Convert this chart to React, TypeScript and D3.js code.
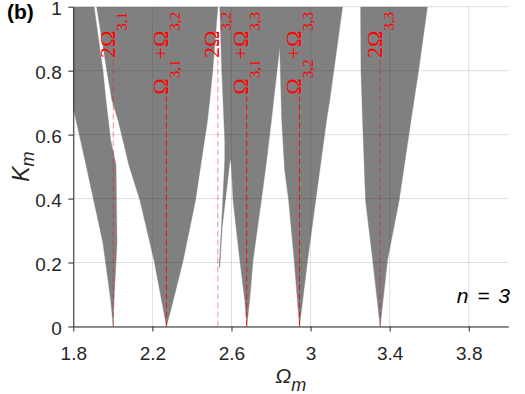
import React, { useRef, useEffect } from "react";
import * as d3 from "d3";

// axis ticks
const omegaTicks = [1.8, 2.2, 2.6, 3, 3.4, 3.8];
const kTicks = [0, 0.2, 0.4, 0.6, 0.8, 1];

// resonance positions (combinations of the n = 3 natural frequencies)
const resonanceOmega = [2.002, 2.271, 2.531, 2.677, 2.944, 3.352];
const resonanceLabels = [
	"2Ω_{3,1}",
	"Ω_{3,1}+Ω_{3,2}",
	"2Ω_{3,2}",
	"Ω_{3,1}+Ω_{3,3}",
	"Ω_{3,2}+Ω_{3,3}",
	"2Ω_{3,3}",
];

// instability regions, [Ω_m, K_m] boundary points
const tongueA = [
	[1.8, 1.0], [1.905, 1.0], [1.95, 0.8], [1.965, 0.708], [1.989, 0.583],
	[2.016, 0.505], [2.021, 0.26], [2.006, 0.083], [2.002, 0],
	[1.989, 0.083], [1.95, 0.261], [1.859, 0.521], [1.8, 0.683],
];
const tongueB = [
	[1.918, 1.0], [1.97, 0.799], [1.995, 0.708], [2.026, 0.646], [2.051, 0.583],
	[2.081, 0.505], [2.137, 0.395], [2.208, 0.208], [2.253, 0.061], [2.271, 0],
	[2.297, 0.061], [2.356, 0.208], [2.418, 0.395], [2.479, 0.646],
	[2.49, 0.708], [2.505, 0.799], [2.531, 1.0],
];
const tongueCDE = [
	[2.541, 1.0], [2.551, 0.799], [2.566, 0.583], [2.566, 0.521], [2.551, 0.333],
	[2.538, 0.186], [2.541, 0.186], [2.553, 0.311], [2.594, 0.527],
	[2.599, 0.505], [2.608, 0.395], [2.642, 0.208], [2.667, 0.083], [2.677, 0],
	[2.692, 0.083], [2.709, 0.208], [2.751, 0.395], [2.778, 0.521], [2.802, 0.646],
	[2.844, 0.874],
	[2.854, 0.646], [2.869, 0.489], [2.889, 0.395], [2.917, 0.208], [2.944, 0],
	[2.985, 0.208], [3.026, 0.395], [3.081, 0.646], [3.097, 0.708], [3.162, 1.0],
];
const tongueF = [
	[3.253, 1.0], [3.255, 0.799], [3.263, 0.646], [3.278, 0.395], [3.314, 0.208],
	[3.352, 0], [3.389, 0.208], [3.448, 0.395], [3.508, 0.646], [3.546, 0.799],
	[3.591, 1.0],
];
const tongues = [tongueA, tongueB, tongueCDE, tongueF];

const width = 525;
const height = 394;
const margin = { left: 73.3, right: 16.7, top: 6.7, bottom: 67.5 };

const axisColor = "#262626";
const sans = "'Liberation Sans', Arial, sans-serif";
const serif = "'Liberation Serif', 'Times New Roman', serif";

const App = () => {
	const svgRef = useRef<SVGSVGElement>(null);

	useEffect(() => {
		const svg = d3.select(svgRef.current);
		svg.selectAll("*").remove();

		const x = d3.scaleLinear().domain([1.8, 4.0]).range([margin.left, width - margin.right]);
		const y = d3.scaleLinear().domain([0, 1]).range([height - margin.bottom, margin.top]);

		svg.append("defs").append("clipPath").attr("id", "plotClip")
			.append("rect")
			.attr("x", margin.left).attr("y", margin.top)
			.attr("width", width - margin.left - margin.right)
			.attr("height", height - margin.top - margin.bottom);

		const line = d3.line<number[]>().x(d => x(d[0])).y(d => y(d[1]));

		// gray tongues
		svg.append("g").attr("clip-path", "url(#plotClip)")
			.selectAll("path")
			.data(tongues)
			.enter()
			.append("path")
			.attr("d", d => line(d) + "Z")
			.attr("fill", "#808080")
			.attr("stroke", "#808080")
			.attr("stroke-width", 0.4);

		// grid
		const grid = svg.append("g").attr("stroke", axisColor).attr("stroke-opacity", 0.15);
		grid.selectAll("line.v").data(omegaTicks).enter().append("line")
			.attr("class", "v")
			.attr("x1", d => x(d)).attr("x2", d => x(d))
			.attr("y1", y(0)).attr("y2", y(1));
		grid.selectAll("line.h").data(kTicks).enter().append("line")
			.attr("class", "h")
			.attr("x1", x(1.8)).attr("x2", x(4.0))
			.attr("y1", d => y(d)).attr("y2", d => y(d));

		// resonance lines + labels
		const res = svg.append("g");
		resonanceOmega.forEach((w, i) => {
			const label = resonanceLabels[i];
			const harmonic = label.startsWith("2");
			const text = res.append("text")
				.attr("transform", `translate(${x(w) + 1.5},${12}) rotate(-90)`)
				.attr("text-anchor", "end")
				.attr("fill", "#ff0000")
				.attr("font-family", serif)
				.attr("font-size", 22);
			const parts = label.split(/(_\{[^}]*\})/).filter(s => s.length);
			let shift = 0;
			parts.forEach(p => {
				const sub = p.startsWith("_{");
				const s = sub ? 12 : 0;
				text.append("tspan")
					.attr("dy", s - shift)
					.attr("font-size", sub ? 15 : 22)
					.text(sub ? p.slice(2, -1) : p);
				shift = s;
			});
			const len = (text.node() as SVGTextElement).getBBox().width;
			res.append("line")
				.attr("x1", x(w)).attr("x2", x(w))
				.attr("y1", y(0)).attr("y2", 12 + len + 2)
				.attr("stroke", "#ff0000")
				.attr("stroke-opacity", harmonic ? 0.45 : 0.85)
				.attr("stroke-width", 1)
				.attr("stroke-dasharray", "6,3");
		});

		// axes
		const xAxis = d3.axisBottom(x).tickValues(omegaTicks).tickSize(5).tickSizeOuter(0)
			.tickPadding(15).tickFormat(d => String(d));
		const yAxis = d3.axisLeft(y).tickValues(kTicks).tickSize(5).tickSizeOuter(0)
			.tickPadding(6.6).tickFormat(d => String(d));

		const gx = svg.append("g").attr("transform", `translate(0, ${y(0)})`).call(xAxis);
		const gy = svg.append("g").attr("transform", `translate(${margin.left}, 0)`).call(yAxis);
		[gx, gy].forEach(g => {
			g.selectAll("path, line").attr("stroke", axisColor);
			g.selectAll("text").attr("fill", axisColor).attr("font-size", 19).attr("font-family", sans);
		});
		gy.selectAll("text").attr("dy", "0.4em");

		// axis titles
		const xl = svg.append("text")
			.attr("x", (x(1.8) + x(4.0)) / 2).attr("y", 383)
			.attr("text-anchor", "middle")
			.attr("font-family", sans).attr("font-style", "italic")
			.attr("fill", axisColor).attr("font-size", 21);
		xl.append("tspan").text("Ω");
		xl.append("tspan").attr("dy", 8).attr("font-size", 18).text("m");

		const yl = svg.append("text")
			.attr("transform", `translate(29, ${(y(0) + y(1)) / 2}) rotate(-90)`)
			.attr("text-anchor", "middle")
			.attr("font-family", sans).attr("font-style", "italic")
			.attr("fill", axisColor).attr("font-size", 23);
		yl.append("tspan").text("K");
		yl.append("tspan").attr("dy", 5).attr("font-size", 18).text("m");

		svg.append("text")
			.attr("x", 7).attr("y", 18.5)
			.attr("font-family", sans).attr("font-weight", "bold")
			.attr("font-size", 21).attr("fill", "#000")
			.text("(b)");

		svg.append("text")
			.attr("x", 510).attr("y", 303)
			.attr("text-anchor", "end")
			.attr("font-family", sans).attr("font-style", "italic")
			.attr("font-size", 21).attr("fill", "#000")
			.attr("word-spacing", 3)
			.text("n = 3");
	}, []);

	return (
		<div>
			<svg ref={svgRef} width={width} height={height}
				style={{ position: "absolute", left: 0, top: 0, display: "block", background: "#fff" }}>
			</svg>
		</div>
	);
};

export default App;
